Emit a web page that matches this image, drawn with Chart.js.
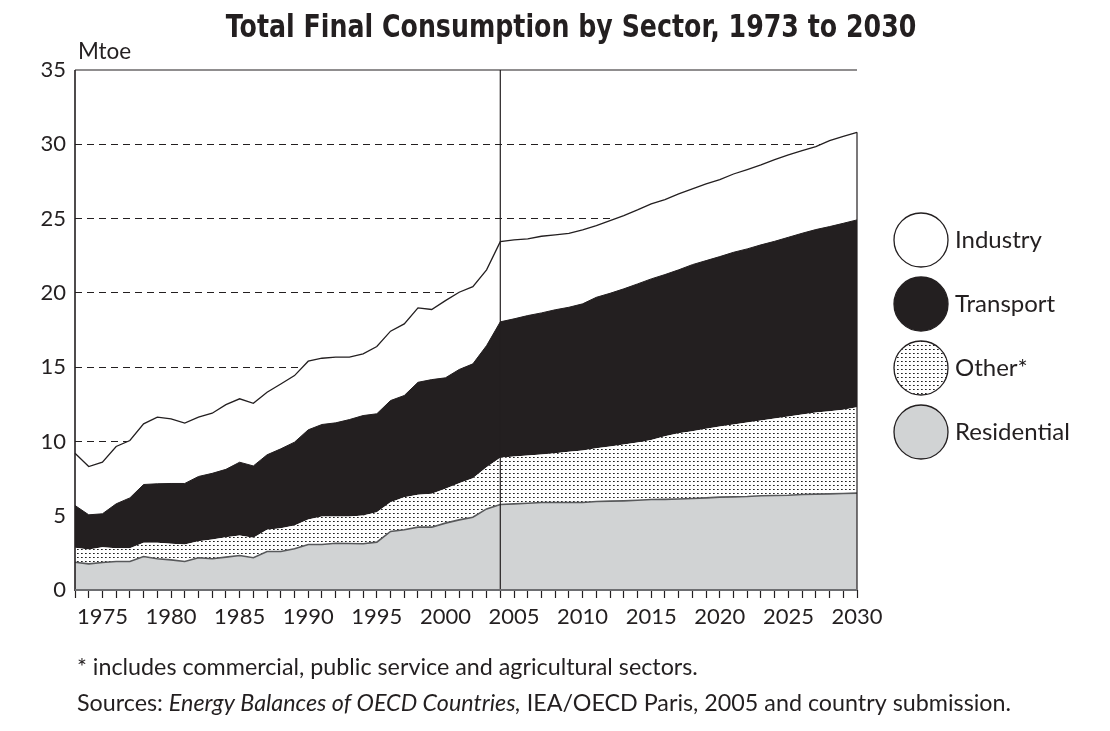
<!DOCTYPE html>
<html>
<head>
<meta charset="utf-8">
<script src="https://cdn.jsdelivr.net/npm/chart.js@4.4.0/dist/chart.umd.min.js"></script>
<style>
html, body { margin: 0; padding: 0; background: #fff; }
#wrap { width: 1110px; height: 731px; position: relative; }
</style>
</head>
<body>
<div id="wrap"><canvas id="myChart" width="1110" height="731"></canvas></div>
<script>
// anos (categorias)
var anos = ['1973','1974','1975','1976','1977','1978','1979','1980','1981','1982',
	'1983','1984','1985','1986','1987','1988','1989','1990','1991','1992',
	'1993','1994','1995','1996','1997','1998','1999','2000','2001','2002',
	'2003','2004','2005','2006','2007','2008','2009','2010','2011','2012',
	'2013','2014','2015','2016','2017','2018','2019','2020','2021','2022',
	'2023','2024','2025','2026','2027','2028','2029','2030'];

// Mtoe por setor
var residential = [1.87, 1.76, 1.85, 1.92, 1.92, 2.25, 2.10, 2.03, 1.92, 2.17,
	2.10, 2.21, 2.32, 2.17, 2.59, 2.59, 2.77, 3.06, 3.06, 3.15,
	3.13, 3.11, 3.22, 3.94, 4.05, 4.23, 4.23, 4.50, 4.72, 4.90,
	5.46, 5.75, 5.80, 5.84, 5.89, 5.89, 5.89, 5.89, 5.96, 5.98,
	6.00, 6.04, 6.09, 6.10, 6.13, 6.16, 6.20, 6.25, 6.27, 6.29,
	6.34, 6.36, 6.38, 6.43, 6.45, 6.47, 6.50, 6.52];

var other = [0.97, 0.97, 1.03, 0.89, 0.89, 0.93, 1.08, 1.08, 1.14, 1.11,
	1.30, 1.34, 1.35, 1.34, 1.46, 1.57, 1.57, 1.68, 1.89, 1.80,
	1.82, 1.90, 2.02, 1.97, 2.20, 2.18, 2.24, 2.31, 2.47, 2.62,
	2.80, 3.15, 3.18, 3.21, 3.23, 3.32, 3.41, 3.50, 3.58, 3.68,
	3.79, 3.89, 4.01, 4.25, 4.42, 4.53, 4.65, 4.75, 4.87, 4.98,
	5.07, 5.18, 5.30, 5.38, 5.50, 5.56, 5.63, 5.78];

var transport = [2.85, 2.33, 2.25, 2.99, 3.39, 3.92, 3.97, 4.06, 4.11, 4.36,
	4.45, 4.57, 4.93, 4.84, 5.05, 5.34, 5.61, 6.04, 6.19, 6.30,
	6.52, 6.73, 6.62, 6.84, 6.84, 7.57, 7.69, 7.47, 7.65, 7.70,
	8.19, 9.15, 9.27, 9.42, 9.53, 9.65, 9.73, 9.87, 10.16, 10.31,
	10.48, 10.67, 10.84, 10.88, 11.00, 11.21, 11.32, 11.44, 11.59, 11.69,
	11.82, 11.93, 12.06, 12.20, 12.31, 12.43, 12.55, 12.61];

var industry = [3.51, 3.25, 3.47, 3.86, 3.86, 4.08, 4.48, 4.35, 4.06, 3.99,
	4.05, 4.36, 4.27, 4.22, 4.21, 4.37, 4.48, 4.62, 4.46, 4.42,
	4.20, 4.16, 4.53, 4.67, 4.82, 5.01, 4.72, 5.20, 5.20, 5.20,
	5.10, 5.40, 5.32, 5.16, 5.16, 5.04, 4.98, 4.98, 4.83, 4.89,
	4.93, 4.98, 5.05, 5.05, 5.11, 5.10, 5.16, 5.18, 5.27, 5.34,
	5.38, 5.50, 5.55, 5.57, 5.58, 5.79, 5.86, 5.90];

var rotulosX = ['1975','1980','1985','1990','1995','2000','2005','2010','2015','2020','2025','2030'];
var anoBase = '2004';

var fonte = 'Lato, "Open Sans", sans-serif';
var corPreta = '#231f20';
var corCinza = '#d1d3d4';

var canvas = document.getElementById('myChart');
var ctx = canvas.getContext('2d');

function criarPontilhado(){
	var c = document.createElement('canvas');
	c.width = 4; c.height = 4;
	var g = c.getContext('2d');
	g.fillStyle = '#fff';
	g.fillRect(0, 0, 4, 4);
	g.fillStyle = '#222';
	g.fillRect(1, 1, 1, 1);
	g.fillStyle = '#666';
	g.fillRect(2, 1, 1, 1);
	return ctx.createPattern(c, 'repeat');
}
var pontilhado = criarPontilhado();

var legenda = [
	{ texto: 'Industry', cor: '#fff' },
	{ texto: 'Transport', cor: corPreta },
	{ texto: 'Other*', cor: pontilhado },
	{ texto: 'Residential', cor: corCinza }
];

var extras = {
	id: 'extras',
	afterDatasetsDraw: function(chart){
		var c = chart.ctx;
		var a = chart.chartArea;
		var xs = chart.scales.x;
		var ys = chart.scales.y;
		c.save();
		// linha do ano base
		var xb = xs.getPixelForValue(anos.indexOf(anoBase));
		c.strokeStyle = corPreta;
		c.lineWidth = 1.2;
		c.beginPath();
		c.moveTo(xb, a.top);
		c.lineTo(xb, a.bottom);
		c.stroke();
		// borda direita ate o total
		var ult = anos.length - 1;
		var total = residential[ult] + other[ult] + transport[ult] + industry[ult];
		c.beginPath();
		c.moveTo(a.right, ys.getPixelForValue(total));
		c.lineTo(a.right, a.bottom);
		c.stroke();
		// topo
		c.beginPath();
		c.moveTo(a.left, a.top);
		c.lineTo(a.right, a.top);
		c.stroke();
		// eixo y
		c.lineWidth = 1.6;
		c.beginPath();
		c.moveTo(a.left, a.top);
		c.lineTo(a.left, a.bottom + 1);
		c.stroke();
		// eixo x
		c.strokeStyle = '#6d6e71';
		c.lineWidth = 2;
		c.beginPath();
		c.moveTo(a.left, a.bottom);
		c.lineTo(a.right, a.bottom);
		c.stroke();
		c.restore();
	},
	afterDraw: function(chart){
		var c = chart.ctx;
		c.save();
		c.fillStyle = corPreta;
		// titulo (condensado na horizontal)
		c.font = 'bold 32px "DejaVu Sans", sans-serif';
		c.textAlign = 'center';
		c.textBaseline = 'alphabetic';
		c.save();
		c.translate(571, 37);
		c.scale(0.79, 1);
		c.fillText('Total Final Consumption by Sector, 1973 to 2030', 0, 0);
		c.restore();
		// unidade
		c.font = '22.5px ' + fonte;
		c.textAlign = 'left';
		c.textBaseline = 'middle';
		c.fillText('Mtoe', 78, 52);
		// legenda
		for (var i = 0; i < legenda.length; i++){
			var cy = 240 + i * 64;
			c.beginPath();
			c.arc(921, cy, 27, 0, Math.PI * 2);
			c.fillStyle = legenda[i].cor;
			c.fill();
			c.strokeStyle = corPreta;
			c.lineWidth = 1.3;
			c.stroke();
			c.fillStyle = corPreta;
			c.font = '24px ' + fonte;
			c.fillText(legenda[i].texto, 955, cy);
		}
		// notas
		c.font = '23.3px ' + fonte;
		c.fillText('* includes commercial, public service and agricultural sectors.', 77, 667);
		var x = 77;
		var partes = [
			['Sources: ', 'normal'],
			['Energy Balances of OECD Countries,', 'italic'],
			[' IEA/OECD Paris, 2005 and country submission.', 'normal']
		];
		for (var j = 0; j < partes.length; j++){
			c.font = partes[j][1] + ' 23.3px ' + fonte;
			c.fillText(partes[j][0], x, 703);
			x += c.measureText(partes[j][0]).width;
		}
		c.restore();
	}
};

var dadosGrafico = {
	labels: anos,
	datasets: [
		{ label: 'Residential', data: residential, backgroundColor: corCinza, borderColor: '#58595b', borderWidth: 1.6, fill: 'origin' },
		{ label: 'Other*', data: other, backgroundColor: pontilhado, borderWidth: 0, fill: '-1' },
		{ label: 'Transport', data: transport, backgroundColor: corPreta, borderColor: corPreta, borderWidth: 1, fill: '-1' },
		{ label: 'Industry', data: industry, backgroundColor: '#fff', borderColor: corPreta, borderWidth: 1.3, fill: '-1' }
	]
};

var opcoes = {
	responsive: false,
	animation: false,
	layout: { padding: { top: 70, right: 253, bottom: 96, left: 0 } },
	elements: { point: { radius: 0 }, line: { tension: 0 } },
	plugins: { legend: { display: false }, tooltip: { enabled: false }, title: { display: false } },
	scales: {
		x: {
			offset: false,
			afterFit: function(s){ s.height = 45; },
			border: { display: false },
			grid: { drawOnChartArea: false, drawTicks: true, tickLength: 8, tickColor: corPreta, tickWidth: 1.2 },
			ticks: {
				autoSkip: false, maxRotation: 0, padding: 6,
				color: corPreta, font: { family: fonte, size: 22 },
				callback: function(val){
					var l = this.getLabelForValue(val);
					return rotulosX.indexOf(l) >= 0 ? l : '';
				}
			}
		},
		y: {
			stacked: true,
			min: 0, max: 35,
			afterFit: function(s){ s.width = 75; },
			border: { display: false, dash: [7, 5] },
			grid: {
				drawTicks: false, lineWidth: 1,
				color: function(c){ return (c.tick.value === 0 || c.tick.value === 35) ? 'rgba(0,0,0,0)' : corPreta; }
			},
			ticks: { stepSize: 5, padding: 9, color: corPreta, font: { family: fonte, size: 22 } }
		}
	}
};

var myChart = new Chart(ctx, {
	type: 'line',
	data: dadosGrafico,
	options: opcoes,
	plugins: [extras]
});
</script>
</body>
</html>
